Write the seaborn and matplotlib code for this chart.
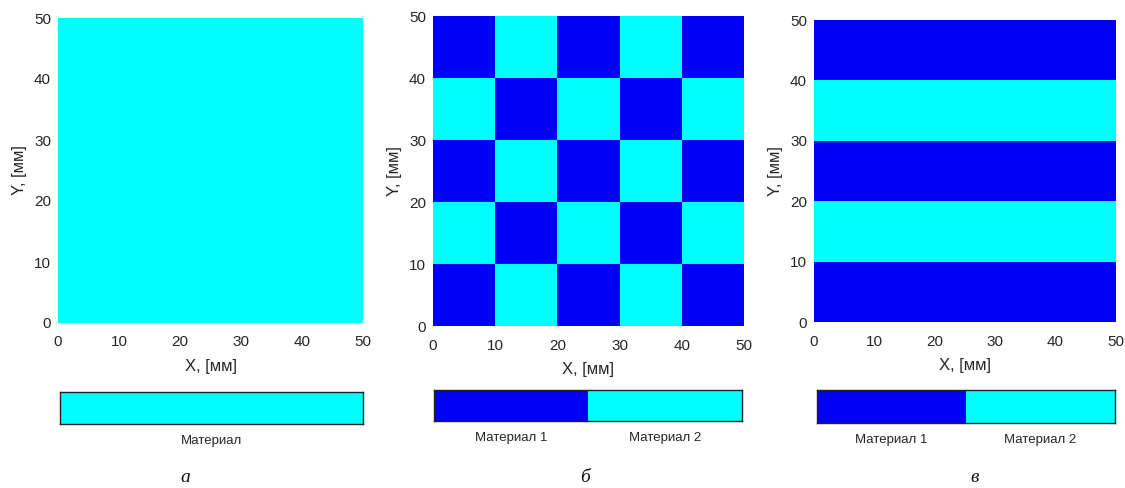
import numpy as np
import matplotlib
matplotlib.use("Agg")
import matplotlib.pyplot as plt
from matplotlib.colors import ListedColormap
import seaborn as sns

# ---- data ----
axis_ticks = [0, 10, 20, 30, 40, 50]
# material index per 10x10 mm cell, rows from bottom (y=0) to top (y=50); 0 = material 1, 1 = material 2
grid_a = [[1, 1, 1, 1, 1],
          [1, 1, 1, 1, 1],
          [1, 1, 1, 1, 1],
          [1, 1, 1, 1, 1],
          [1, 1, 1, 1, 1]]
grid_b = [[0, 1, 0, 1, 0],
          [1, 0, 1, 0, 1],
          [0, 1, 0, 1, 0],
          [1, 0, 1, 0, 1],
          [0, 1, 0, 1, 0]]
grid_c = [[0, 0, 0, 0, 0],
          [1, 1, 1, 1, 1],
          [0, 0, 0, 0, 0],
          [1, 1, 1, 1, 1],
          [0, 0, 0, 0, 0]]
legend_a_vals = [[1]]
legend_a_labels = ["Материал"]
legend_bc_vals = [[0, 1]]
legend_bc_labels = ["Материал 1", "Материал 2"]
captions = ["а", "б", "в"]
xlabel = "X, [мм]"
ylabel = "Y, [мм]"

sns.set_theme(style="white")
plt.rcParams["font.family"] = ["Liberation Sans", "DejaVu Sans"]
txt = "#262626"

cmap = ListedColormap(["#0000F5", "#00FFFF"])
W, H = 1125, 488
fig = plt.figure(figsize=(W / 100, H / 100), dpi=100)

def frac(l, t, r, b):
    return [l / W, 1 - b / H, (r - l) / W, (b - t) / H]

main_boxes = [(58, 18, 363, 323), (433, 16, 744, 326), (814, 20, 1116, 322)]
leg_boxes = [(60, 392, 363, 424), (434, 390, 742, 421), (817, 390, 1115, 423)]
cap_x = [185, 585, 975]
grids = [grid_a, grid_b, grid_c]
legs = [(legend_a_vals, legend_a_labels), (legend_bc_vals, legend_bc_labels),
        (legend_bc_vals, legend_bc_labels)]

for i in range(3):
    ax = fig.add_axes(frac(*main_boxes[i]))
    g = np.array(grids[i])
    sns.heatmap(g, ax=ax, cmap=cmap, vmin=0, vmax=1, cbar=False,
                xticklabels=False, yticklabels=False)
    nr, nc = g.shape
    ax.set_ylim(0, nr)
    ax.set_xlim(0, nc)
    ax.set_xticks(np.linspace(0, nc, len(axis_ticks)))
    ax.set_xticklabels([str(v) for v in axis_ticks], rotation=0, fontsize=11, color=txt)
    ax.set_yticks(np.linspace(0, nr, len(axis_ticks)))
    ax.set_yticklabels([str(v) for v in axis_ticks], rotation=0, fontsize=11, color=txt)
    ax.tick_params(axis="x", length=0, pad=9)
    ax.tick_params(axis="y", length=0, pad=5)
    ax.set_xlabel(xlabel, fontsize=12, color=txt, labelpad=7)
    ax.set_ylabel(ylabel, fontsize=12, color=txt, labelpad=5)

    lax = fig.add_axes(frac(*leg_boxes[i]))
    vals, labels = legs[i]
    sns.heatmap(np.array(vals), ax=lax, cmap=cmap, vmin=0, vmax=1, cbar=False,
                xticklabels=labels, yticklabels=False)
    for s in lax.spines.values():
        s.set_visible(True)
        s.set_color("#222222")
        s.set_linewidth(1.0)
    lax.tick_params(axis="x", bottom=True, direction="in", length=3, width=0.6,
                    color="#222222", pad=8, labelsize=9.5, labelcolor=txt, rotation=0)
    lax.tick_params(axis="y", left=False, length=0)

    fig.text(cap_x[i] / W, 1 - 478 / H, captions[i], ha="center", va="center",
             fontsize=14, style="italic", family=["Liberation Serif", "DejaVu Serif"],
             color="#111111")

fig.savefig("out.png", dpi=100)
